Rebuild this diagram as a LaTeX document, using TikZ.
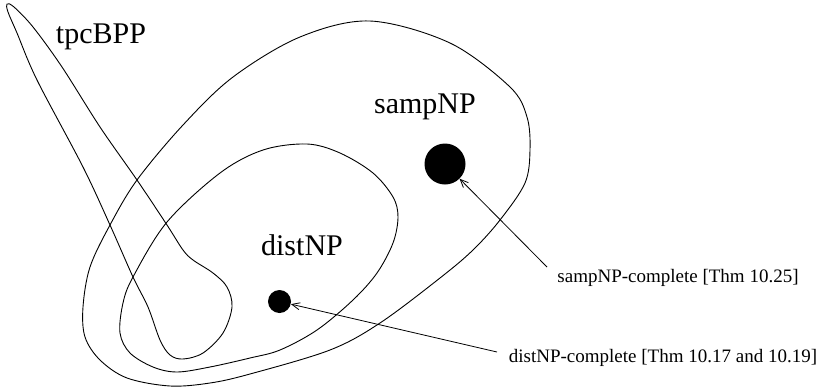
\documentclass[tikz,border=0pt]{standalone}
\usepackage{fontspec}
\setmainfont{Liberation Serif}
\usetikzlibrary{arrows.meta}
\begin{document}
\begin{tikzpicture}[x=1pt,y=-1pt,
  curve/.style={draw=black,line width=0.9pt},
  biglab/.style={anchor=base,inner sep=0pt,font=\fontsize{30}{36}\selectfont},
  smalllab/.style={anchor=base,inner sep=0pt,font=\fontsize{19}{23}\selectfont},
  dot/.style={circle,fill=black,inner sep=0pt},
  arr/.style={draw=black,line width=0.8pt,-{Straight Barb[length=8pt,width=7pt]}}]
\useasboundingbox (0,0) rectangle (822,389);
% tpcBPP teardrop
\draw[curve] plot[smooth cycle,tension=0.55] coordinates {
 (7,4) (8,12) (17,33) (37,80) (83,167) (110,225) (133,277) (148,307) (160,340)
 (170,355) (183,359) (203,353) (223,333) (232,307) (227,287) (213,273) (193,260)
 (183,250) (167,225) (137,180) (100,127) (62,67) (33,27) (14,7)};
% outer (sampNP)
\draw[curve] plot[smooth cycle,tension=0.55] coordinates {
 (370,21) (450,43) (510,87) (527,117) (530,150) (525,183) (500,220) (473,250)
 (440,278) (380,323) (330,350) (250,374) (210,383) (170,386) (127,378) (100,360)
 (85,337) (83,307) (90,267) (110,225) (137,180) (183,125) (233,77) (300,37)};
% middle (distNP)
\draw[curve] plot[smooth cycle,tension=0.55] coordinates {
 (307,144) (340,153) (373,173) (393,197) (398,217) (393,243) (377,273) (353,300)
 (317,330) (280,350) (250,358) (210,367) (177,372) (153,367) (130,353) (120,333)
 (123,303) (133,277) (167,222) (220,173) (263,150)};
% labels
\node[biglab] (tpc) at (101,43) {tpcBPP};
\node[biglab] (samp) at (425,113) {sampNP};
\node[biglab] (dist) at (302,255) {distNP};
\node[smalllab] (scomp) at (678,282) {sampNP-complete [Thm 10.25]};
\node[smalllab] (dcomp) at (663,362) {distNP-complete [Thm 10.17 and 10.19]};
% dots
\node[dot,minimum size=41pt] (sdot) at (445,164) {};
\node[dot,minimum size=23pt] (ddot) at (279.5,301.5) {};
% arrows
\coordinate (sstart) at (547,267);
\coordinate (dstart) at (497,352);
\draw[arr] (sstart) -- (sdot);
\draw[arr] (dstart) -- (ddot);
\end{tikzpicture}
\end{document}
